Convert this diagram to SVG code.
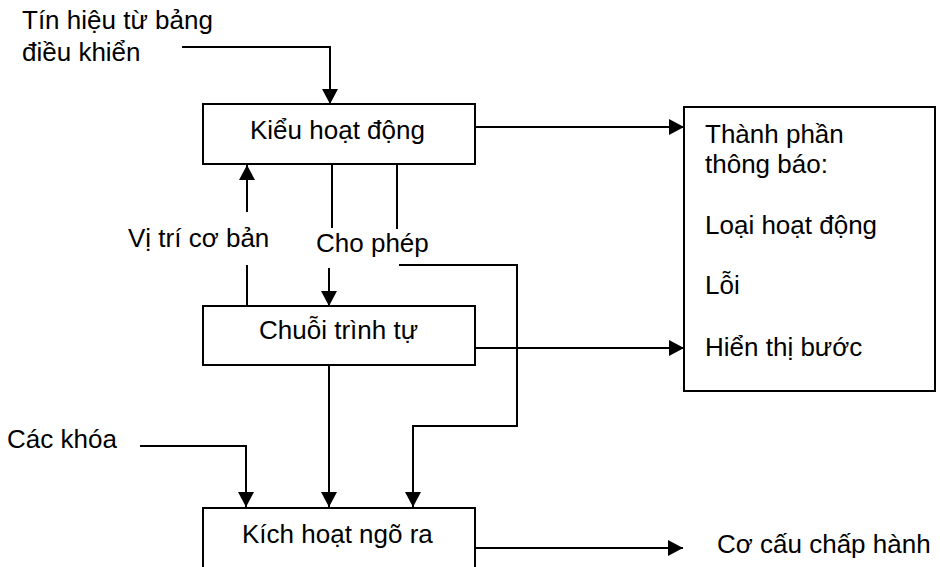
<svg xmlns="http://www.w3.org/2000/svg" width="940" height="567" viewBox="0 0 940 567">
  <defs>
    <marker id="arrow" viewBox="0 0 15 16" refX="15" refY="8" markerWidth="15" markerHeight="16" markerUnits="userSpaceOnUse" orient="auto">
      <path d="M0,0 L15,8 L0,16 Z" fill="#000"/>
    </marker>
    <style>
      .box { fill: #fff; stroke: #000; stroke-width: 2; }
      .wire { fill: none; stroke: #000; stroke-width: 2; }
      .lbl { font-family: "Liberation Sans", Arial, sans-serif; font-size: 26px; fill: #000; }
    </style>
  </defs>
  <rect width="940" height="567" fill="#fff"/>

  <g id="connectors">
    <polyline class="wire" points="182,47 330,47 330,104" marker-end="url(#arrow)"/>
    <polyline class="wire" points="247,212 247,165" marker-end="url(#arrow)"/>
    <line class="wire" x1="247" y1="265" x2="247" y2="306"/>
    <line class="wire" x1="332" y1="164" x2="332" y2="228"/>
    <line class="wire" x1="397" y1="164" x2="397" y2="229"/>
    <polyline class="wire" points="329,268 329,306" marker-end="url(#arrow)"/>
    <polyline class="wire" points="399,265 517,265 517,426 413,426 413,507" marker-end="url(#arrow)"/>
    <polyline class="wire" points="475,127 684,127" marker-end="url(#arrow)"/>
    <polyline class="wire" points="475,348 684,348" marker-end="url(#arrow)"/>
    <polyline class="wire" points="329,366 329,507" marker-end="url(#arrow)"/>
    <polyline class="wire" points="140,446 246,446 246,507" marker-end="url(#arrow)"/>
    <polyline class="wire" points="475,548 683,548" marker-end="url(#arrow)"/>
  </g>

  <g id="input-signal">
    <text class="lbl" x="22" y="29">Tín hiệu từ bảng</text>
    <text class="lbl" x="22" y="61">điều khiển</text>
  </g>

  <g id="mode">
    <rect class="box" x="203" y="104" width="272" height="60"/>
    <text class="lbl" x="250" y="139">Kiểu hoạt động</text>
  </g>

  <g id="home-label">
    <text class="lbl" x="128" y="247">Vị trí cơ bản</text>
  </g>
  <g id="enable-label">
    <text class="lbl" x="316" y="252">Cho phép</text>
  </g>

  <g id="sequence">
    <rect class="box" x="203" y="306" width="272" height="59"/>
    <text class="lbl" x="259" y="339">Chuỗi trình tự</text>
  </g>

  <g id="messages">
    <rect class="box" x="684" y="107" width="251" height="284"/>
    <text class="lbl" x="705" y="143">Thành phần</text>
    <text class="lbl" x="705" y="173">thông báo:</text>
    <text class="lbl" x="705" y="234">Loại hoạt động</text>
    <text class="lbl" x="705" y="294">Lỗi</text>
    <text class="lbl" x="705" y="356">Hiển thị bước</text>
  </g>

  <g id="interlocks">
    <text class="lbl" x="7" y="448">Các khóa</text>
  </g>

  <g id="output-enable">
    <rect class="box" x="203" y="508" width="272" height="80"/>
    <text class="lbl" x="242" y="543">Kích hoạt ngõ ra</text>
  </g>

  <g id="actuators">
    <text class="lbl" x="717" y="553">Cơ cấu chấp hành</text>
  </g>
</svg>
